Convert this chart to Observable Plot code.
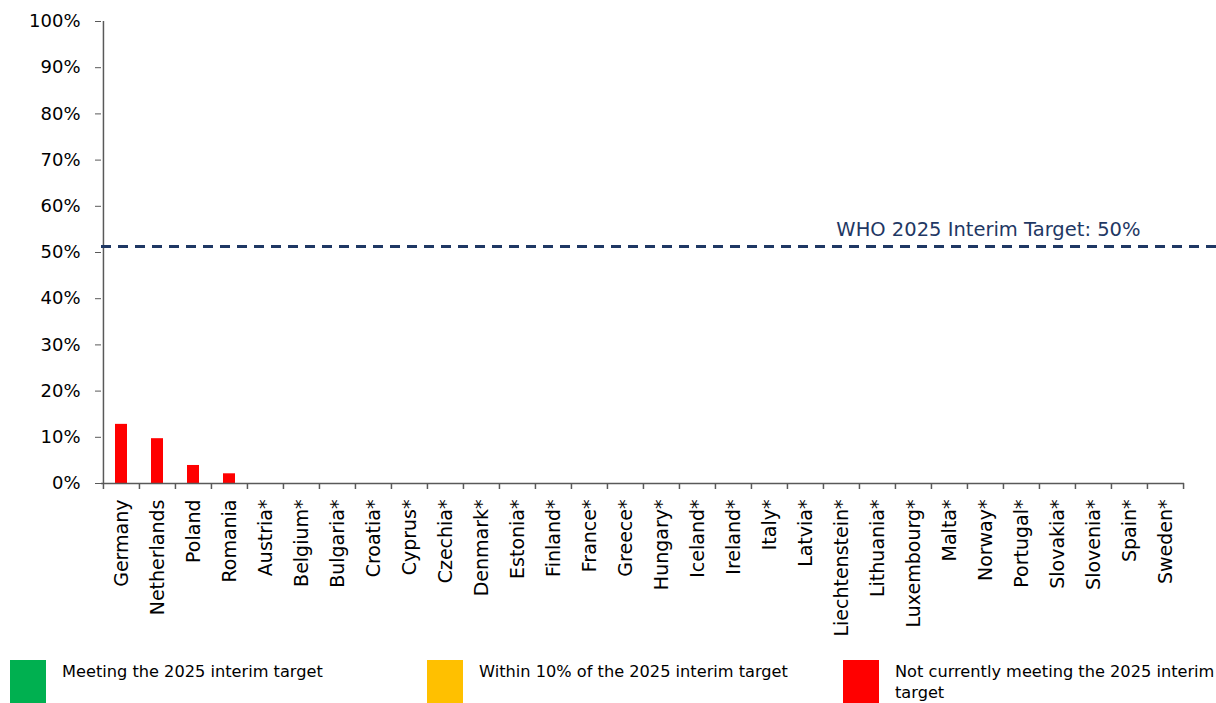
<!DOCTYPE html>
<html><head><meta charset="utf-8">
<script src="https://cdn.jsdelivr.net/npm/d3@7"></script>
<script src="https://cdn.jsdelivr.net/npm/@observablehq/plot@0.6"></script>
<style>
body{margin:0;background:#fff;font-family:"DejaVu Sans",sans-serif;width:1216px;overflow:hidden;}
#chart svg{display:block;}
#legend{position:relative;height:48px;margin-top:5px;}
.item{position:absolute;top:0;}
.sw{position:absolute;left:0;top:0;width:36px;height:48px;}
.lab{position:absolute;left:52px;top:1px;font-size:16.2px;line-height:21px;color:#000;}
</style></head><body><div id="chart"></div><div id="legend"></div>
<script>
const countries = ["Germany","Netherlands","Poland","Romania","Austria*","Belgium*","Bulgaria*","Croatia*","Cyprus*","Czechia*","Denmark*","Estonia*","Finland*","France*","Greece*","Hungary*","Iceland*","Ireland*","Italy*","Latvia*","Liechtenstein*","Lithuania*","Luxembourg*","Malta*","Norway*","Portugal*","Slovakia*","Slovenia*","Spain*","Sweden*"];
const shares = [12.8, 9.7, 3.9, 2.1, null, null, null, null, null, null, null, null, null, null, null, null, null, null, null, null, null, null, null, null, null, null, null, null, null, null];
const yTicks = [0,10,20,30,40,50,60,70,80,90,100];
const targetLine = 51.3;
const targetLabel = "WHO 2025 Interim Target: 50%";
const statusLabels = ["Meeting the 2025 interim target","Within 10% of the 2025 interim target","Not currently meeting the 2025 interim target"];
const statusColors = ["#00B050","#FFC000","#FF0000"];

const rows = countries.map((c,i)=>({country:c, value:shares[i],
  status: shares[i]==null ? null : (shares[i]>=50 ? statusLabels[0] : shares[i]>=45 ? statusLabels[1] : statusLabels[2])}));

const W = 1216, H = 655, mL = 101, mR = 32, mT = 21, mB = 172;
const bw = (W - mL - mR) / countries.length;
const axisColor = "#595959";

const chart = Plot.plot({
  width: W, height: H,
  marginLeft: mL, marginRight: mR, marginTop: mT, marginBottom: mB,
  style: {fontFamily: "'DejaVu Sans', sans-serif", background: "#fff"},
  x: {type: "band", domain: countries, padding: 0},
  y: {domain: [0,100]},
  color: {domain: statusLabels, range: statusColors},
  marks: [
    Plot.barY(rows.filter(d=>d.value!=null), {x:"country", y:"value", fill:"status", insetLeft: 12, insetRight: 12}),
    Plot.ruleY([0], {stroke: axisColor, strokeWidth: 1.5}),
    Plot.ruleX([countries[0]], {dx: -bw/2, stroke: axisColor, strokeWidth: 1.5}),
    Plot.ruleX(countries, {dx: -bw/2, insetTop: H - mT - mB, insetBottom: -6, stroke: axisColor, strokeWidth: 1.5}),
    Plot.ruleX([countries[countries.length-1]], {dx: bw/2, insetTop: H - mT - mB, insetBottom: -6, stroke: axisColor, strokeWidth: 1.5}),
    Plot.ruleY([targetLine], {stroke: "#1F3864", strokeWidth: 3, strokeDasharray: "10,7", insetRight: -mR}),
    Plot.text([{v: targetLine, t: targetLabel}], {y: "v", text: "t", frameAnchor: "right", textAnchor: "end", dx: -44, dy: -17, fill: "#1F3864", fontSize: 19.5}),
    Plot.axisY({ticks: yTicks, tickFormat: d => d + "%", tickSize: 6, tickPadding: 15, fontSize: 18, stroke: axisColor, color: "#000", label: null}),
    Plot.axisX({tickSize: 0, tickRotate: -90, tickPadding: 16, fontSize: 19, label: null, color: "#000"})
  ]
});
document.getElementById("chart").appendChild(chart);

const legendX = [10, 427, 843];
const lg = document.getElementById("legend");
statusLabels.forEach((l,i)=>{
  const it = document.createElement("div");
  it.className = "item";
  it.style.left = legendX[i] + "px";
  it.style.width = (i===2 ? 1216 - legendX[i] : 400) + "px";
  it.innerHTML = `<div class="sw" style="background:${statusColors[i]}"></div><div class="lab" style="width:${i===2?324:360}px">${l}</div>`;
  lg.appendChild(it);
});
</script>
</body></html>
